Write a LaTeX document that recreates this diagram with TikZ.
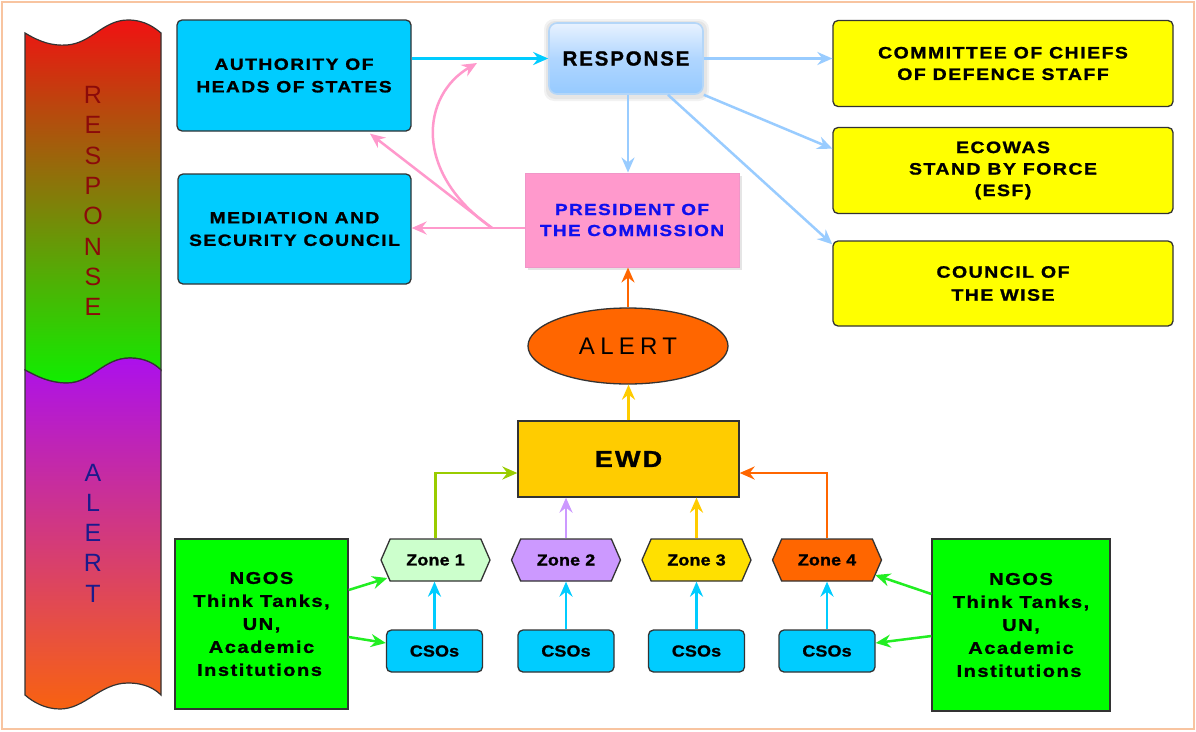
\documentclass[tikz,border=0pt]{standalone}
\usepackage{fontspec}
\setmainfont{Liberation Sans}
\newfontfamily\wide{Liberation Sans}[FakeStretch=1.18, LetterSpace=9, FakeBold=1.2]
\newfontfamily\widez{Liberation Sans}[FakeStretch=1.12, LetterSpace=1, FakeBold=1.2]
\newfontfamily\lbls{Liberation Sans}[LetterSpace=9, FakeBold=1.2]
\newfontfamily\lblr{Liberation Sans}[LetterSpace=22]
\usetikzlibrary{arrows.meta,shapes.geometric,shapes.symbols,calc}
\definecolor{cyanbox}{HTML}{00CCFF}
\definecolor{ylw}{HTML}{FFFF00}
\definecolor{pinkbox}{HTML}{FF99CC}
\definecolor{ltblue}{HTML}{99CCFF}
\definecolor{pinkarr}{HTML}{FF99CC}
\definecolor{ewdc}{HTML}{FFCC00}
\definecolor{alertc}{HTML}{FF6600}
\definecolor{ngoc}{HTML}{00FF00}
\definecolor{zonea}{HTML}{CCFFCC}
\definecolor{zoneb}{HTML}{CC99FF}
\definecolor{zonec}{HTML}{FFE000}
\definecolor{zoned}{HTML}{FF6600}
\definecolor{greenarr}{HTML}{99CC00}
\definecolor{edgec}{HTML}{333333}
\definecolor{framec}{HTML}{F8C4A0}
\definecolor{resptext}{HTML}{8B0A0A}
\definecolor{alerttext}{HTML}{1A1A8C}
\definecolor{prestext}{HTML}{1010EE}
\definecolor{brightgreen}{HTML}{22EE22}
\definecolor{respedge}{HTML}{B4D6F8}
\tikzset{
  box/.style={draw=edgec, line width=1.3pt, align=center, text=black, inner sep=0pt},
  cbox/.style={box, fill=cyanbox, rounded corners=5pt, font=\wide\bfseries\fontsize{16.3}{22.5}\selectfont},
  ybox/.style={box, fill=ylw, rounded corners=5pt, font=\wide\bfseries\fontsize{16.5}{21.5}\selectfont, minimum width=340, minimum height=86},
  zone/.style={box, shape=signal, signal to=west and east, signal pointer angle=133, minimum width=109, minimum height=42, font=\widez\bfseries\fontsize{16}{18}\selectfont},
  cso/.style={box, fill=cyanbox, rounded corners=5pt, minimum width=96, minimum height=42, font=\widez\bfseries\fontsize{16}{18}\selectfont},
  ngo/.style={box, fill=ngoc, font=\wide\bfseries\fontsize{17}{23}\selectfont},
  arr/.style={-{Stealth[length=15pt,width=13pt,inset=5pt]}, line width=2.5pt},
  bannertext/.style={font=\fontsize{25}{30.3}\selectfont, align=center, inner sep=0pt}
}
\begin{document}
\begin{tikzpicture}[x=1pt,y=-1pt]
\useasboundingbox (0,0) rectangle (1196,731);
\fill[white] (0,0) rectangle (1196,731);
\draw[framec, line width=2pt] (2,2) rectangle (1194,729);
% banner
\shade[top color={rgb,255:red,240;green,18;blue,18}, bottom color={rgb,255:red,16;green,238;blue,0}, draw=edgec, line width=1.2pt]
  (25,33) .. controls (40,42) and (52,46) .. (67,45) .. controls (92,43) and (103,20) .. (128,20) .. controls (145,20) and (155,28) .. (161,33)
  -- (161,370) .. controls (155,364) and (145,358) .. (130,358) .. controls (103,358) and (92,383) .. (67,383) .. controls (50,383) and (38,377) .. (25,370) -- cycle;
\shade[top color={rgb,255:red,172;green,16;blue,236}, bottom color={rgb,255:red,248;green,98;blue,16}, draw=edgec, line width=1.2pt]
  (25,370) .. controls (38,377) and (50,383) .. (67,383) .. controls (92,383) and (103,358) .. (130,358) .. controls (145,358) and (155,364) .. (161,370)
  -- (161,695) .. controls (155,689) and (145,683) .. (128,683) .. controls (100,683) and (85,709) .. (60,709) .. controls (45,709) and (33,702) .. (25,695) -- cycle;
\node[bannertext, text=resptext] (rtxt) at (93,201) {R\\E\\S\\P\\O\\N\\S\\E};
\node[bannertext, text=alerttext] (atxt) at (93,533) {A\\L\\E\\R\\T};
% response-side nodes
\node[cbox, minimum width=234, minimum height=111] (ahs) at (294,75.5) {AUTHORITY OF\\HEADS OF STATES};
\node[cbox, minimum width=233, minimum height=110] (msc) at (294.5,229) {MEDIATION AND\\SECURITY COUNCIL};
\fill[black, opacity=0.05, rounded corners=10pt] (544,19) rectangle (709,101);
\fill[black, opacity=0.05, rounded corners=9pt] (546,21) rectangle (707,99);
\node[box, draw=respedge, line width=1.6pt, rounded corners=8pt, minimum width=154, minimum height=71,
  top color={rgb,255:red,232;green,242;blue,255}, bottom color={rgb,255:red,150;green,202;blue,255}, middle color={rgb,255:red,176;green,214;blue,255},
  font=\lbls\bfseries\fontsize{20.5}{24}\selectfont] (resp) at (626,58.5) {RESPONSE};
\fill[black, opacity=0.10] (528,176) rectangle (742,270);
\node[box, draw={rgb,255:red,240;green,150;blue,200}, line width=1pt, fill=pinkbox, text=prestext, minimum width=214, minimum height=94,
  font=\wide\bfseries\fontsize{16}{21}\selectfont] (pres) at (632,220) {PRESIDENT OF\\THE COMMISSION};
\node[ybox] (cc) at (1003,63.5) {COMMITTEE OF CHIEFS\\OF DEFENCE STAFF};
\node[ybox] (esf) at (1003,170.5) {ECOWAS\\STAND BY FORCE\\(ESF)};
\node[ybox, minimum height=85, font=\wide\bfseries\fontsize{16.5}{23}\selectfont] (cw) at (1003,283.5) {COUNCIL OF\\THE WISE};
% alert-side nodes
\node[box, shape=ellipse, fill=alertc, minimum width=200, minimum height=76, font=\lblr\fontsize{24}{28}\selectfont] (alert) at (628,346) {ALERT};
\node[box, fill=ewdc, minimum width=221, minimum height=76, font=\wide\bfseries\fontsize{23}{30}\selectfont] (ewd) at (628.5,459) {EWD};
\node[zone, fill=zonea] (z1) at (435.5,560) {Zone 1};
\node[zone, fill=zoneb] (z2) at (566,560) {Zone 2};
\node[zone, fill=zonec] (z3) at (696.5,560) {Zone 3};
\node[zone, fill=zoned] (z4) at (827,560) {Zone 4};
\node[cso] (c1) at (434.5,651) {CSOs};
\node[cso] (c2) at (566,651) {CSOs};
\node[cso] (c3) at (696.5,651) {CSOs};
\node[cso] (c4) at (827,651) {CSOs};
\node[ngo, minimum width=173, minimum height=170] (ngl) at (261.5,624) {NGOS\\Think Tanks,\\UN,\hspace*{6pt}\\Academic\hspace*{15pt}\\Institutions\hspace*{4pt}};
\node[ngo, minimum width=178, minimum height=172] (ngr) at (1021,625) {NGOS\\Think Tanks,\\UN,\hspace*{6pt}\\Academic\hspace*{15pt}\\Institutions\hspace*{4pt}};
% connectors response side
\draw[arr, cyanbox] (ahs.east |- resp.west) -- (resp.west);
\draw[arr, ltblue] (resp.east) -- (cc.west |- resp.east);
\draw[arr, ltblue] (resp.south east) -- ($(esf.north west)!0.25!(esf.south west)$);
\draw[arr, ltblue] ([xshift=42pt]resp.south) -- ([yshift=-4pt]cw.north west);
\draw[arr, ltblue] ([xshift=2pt]resp.south) -- ([xshift=2pt]resp.south |- pres.north);
\coordinate (pj) at (492,228);
\coordinate (curveend) at (477,63);
\draw[arr, pinkarr] (pres.west |- pj) -- (msc.east |- pj);
\draw[arr, pinkarr] (pj) -- ($(ahs.south)+(76,2)$);
\draw[arr, pinkarr] (pj) .. controls (412,172) and (422,95) .. (curveend);
% connectors alert side
\draw[arr, alertc] (alert.north) -- (alert.north |- pres.south);
\draw[arr, ewdc] (ewd.north) -- (ewd.north |- alert.south);
\draw[arr, greenarr] (z1.north) |- ([yshift=-14pt]ewd.west);
\draw[arr, zoneb] (z2.north) -- (z2.north |- ewd.south);
\draw[arr, ewdc] (z3.north) -- (z3.north |- ewd.south);
\draw[arr, alertc] (z4.north) |- ([yshift=-14pt]ewd.east);
\draw[arr, cyanbox] (c1.north) -- (c1.north |- z1.south);
\draw[arr, cyanbox] (c2.north) -- (c2.north |- z2.south);
\draw[arr, cyanbox] (c3.north) -- (c3.north |- z3.south);
\draw[arr, cyanbox] (c4.north) -- (c4.north |- z4.south);
\draw[arr, brightgreen] ($(ngl.east)+(0,-34)$) -- ($(z1.west)+(7,18)$);
\draw[arr, brightgreen] ($(ngl.east)+(0,13)$) -- ($(c1.west)+(0,-8)$);
\draw[arr, brightgreen] ($(ngr.west)+(0,-31)$) -- ($(z4.east)+(-7,15)$);
\draw[arr, brightgreen] ($(ngr.west)+(0,11)$) -- ($(c4.east)+(0,-8)$);
\end{tikzpicture}
\end{document}
